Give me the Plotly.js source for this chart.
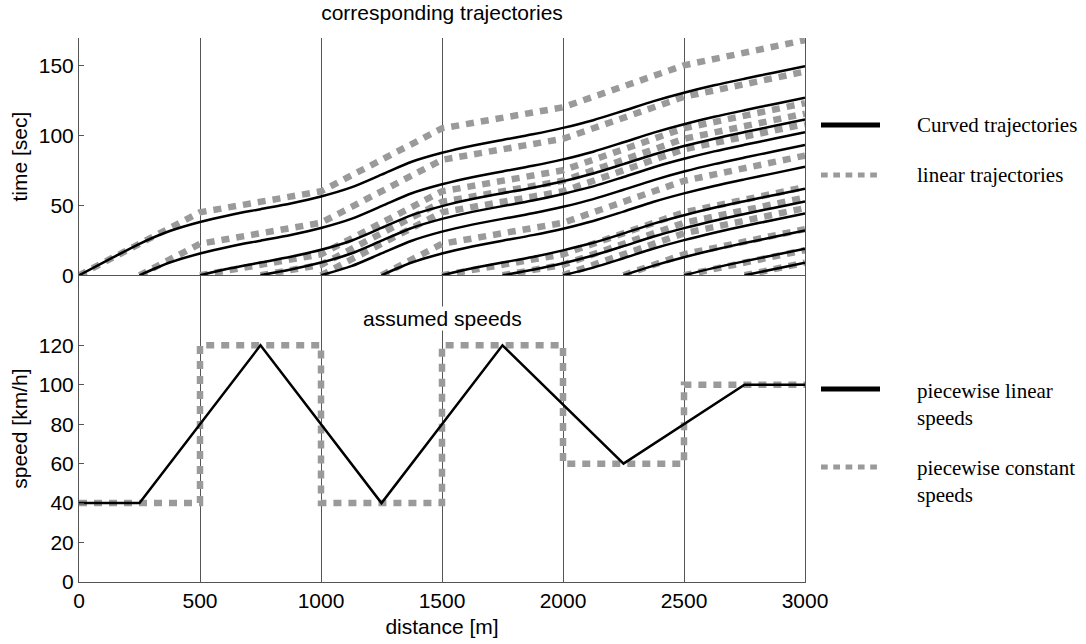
<!DOCTYPE html>
<html>
<head>
<meta charset="utf-8">
<script src="https://cdn.plot.ly/plotly-3.0.1.min.js"></script>
<style>html,body{margin:0;padding:0;background:#fff;}#chart{width:1086px;height:644px;}</style>
</head>
<body>
<div id="chart"></div>
<script>
// ---- data ----
// distance grid (m) used for the curved trajectories
const distGrid = [0,125,250,375,500,625,750,875,1000,1125,1250,1375,1500,1625,1750,1875,2000,2125,2250,2375,2500,2625,2750,2875,3000];
// start positions of the vehicles (m)
const trajStarts = [0,250,500,750,1000,1250,1500,1750,2000,2250,2500,2750];
// boundaries of the constant-speed sections (m)
const sectionBounds = [0,500,1000,1500,2000,2500,3000];

// curved trajectories: time (s) at distGrid points from the start position on
const curved0    = [0,11.3,22.5,31.6,38.1,43.1,47.2,51.3,56.3,62.8,71.9,81.1,87.5,92.6,96.7,100.7,105.3,110.8,117.5,124.4,130.4,135.7,140.4,144.9,149.4];
const curved250  = [0,9.1,15.6,20.6,24.7,28.8,33.8,40.3,49.4,58.6,65.0,70.1,74.2,78.2,82.8,88.3,95.0,101.9,107.9,113.2,117.9,122.4,126.9];
const curved500  = [0,5.0,9.1,13.2,18.2,24.7,33.8,43.0,49.4,54.5,58.6,62.6,67.2,72.7,79.4,86.3,92.3,97.6,102.3,106.8,111.3];
const curved750  = [0,4.1,9.1,15.6,24.7,33.8,40.3,45.3,49.4,53.4,58.1,63.5,70.2,77.2,83.2,88.5,93.2,97.7,102.2];
const curved1000 = [0,6.5,15.6,24.7,31.2,36.2,40.3,44.3,48.9,54.4,61.1,68.0,74.1,79.4,84.1,88.6,93.1];
const curved1250 = [0,9.1,15.6,20.6,24.7,28.7,33.3,38.8,45.5,52.5,58.5,63.8,68.5,73.0,77.5];
const curved1500 = [0,5.0,9.1,13.1,17.8,23.2,29.9,36.9,42.9,48.2,52.9,57.4,61.9];
const curved1750 = [0,4.0,8.6,14.1,20.8,27.7,33.7,39.0,43.8,48.3,52.8];
const curved2000 = [0,5.5,12.2,19.1,25.1,30.4,35.2,39.7,44.2];
const curved2250 = [0,6.9,12.9,18.2,23.0,27.5,32.0];
const curved2500 = [0,5.3,10.0,14.5,19.0];
const curved2750 = [0,4.5,9.0];

// linear trajectories: time (s) at the start and at each later section boundary
const linear0    = [0,45,60,105,120,150,168];
const linear250  = [0,22.5,37.5,82.5,97.5,127.5,145.5];
const linear500  = [0,15,60,75,105,123];
const linear750  = [0,7.5,52.5,67.5,97.5,115.5];
const linear1000 = [0,45,60,90,108];
const linear1250 = [0,22.5,37.5,67.5,85.5];
const linear1500 = [0,15,45,63];
const linear1750 = [0,7.5,37.5,55.5];
const linear2000 = [0,30,48];
const linear2250 = [0,15,33];
const linear2500 = [0,18];
const linear2750 = [0,9];

// assumed speeds
const linSpeedX = [0,250,750,1250,1750,2250,2750,3000];
const linSpeedV = [40,40,120,40,120,60,100,100];
const constSpeedX = [0,500,1000,1500,2000,2500,3000];
const constSpeedV = [40,120,40,120,60,100,100];

// ticks
const xTicks = [0,500,1000,1500,2000,2500,3000];
const timeTicks = [0,50,100,150];
const speedTicks = [0,20,40,60,80,100,120];

// ---- build traces ----
const curvedAll = [curved0,curved250,curved500,curved750,curved1000,curved1250,curved1500,curved1750,curved2000,curved2250,curved2500,curved2750];
const linearAll = [linear0,linear250,linear500,linear750,linear1000,linear1250,linear1500,linear1750,linear2000,linear2250,linear2500,linear2750];

const GRAY = '#9a9a9a';
const grayLine = {color: GRAY, width: 6.5, dash: '8px,7px'};
const blackLine = {color: '#000', width: 2.5};

const traces = [];
trajStarts.forEach((s, i) => {
  const xs = [s].concat(sectionBounds.filter(b => b > s));
  traces.push({x: xs, y: linearAll[i], xaxis: 'x', yaxis: 'y', type: 'scatter', mode: 'lines',
    line: grayLine, name: 'linear trajectories', showlegend: false, hoverinfo: 'skip'});
});
trajStarts.forEach((s, i) => {
  const idx = distGrid.indexOf(s);
  traces.push({x: distGrid.slice(idx), y: curvedAll[i], xaxis: 'x', yaxis: 'y', type: 'scatter', mode: 'lines',
    line: Object.assign({shape: 'spline', smoothing: 0.8}, blackLine), name: 'Curved trajectories', showlegend: false, hoverinfo: 'skip'});
});
traces.push({x: constSpeedX, y: constSpeedV, xaxis: 'x2', yaxis: 'y2', type: 'scatter', mode: 'lines',
  line: Object.assign({shape: 'hv'}, grayLine), name: 'piecewise constant speeds', showlegend: false});
traces.push({x: linSpeedX, y: linSpeedV, xaxis: 'x2', yaxis: 'y2', type: 'scatter', mode: 'lines',
  line: blackLine, name: 'piecewise linear speeds', showlegend: false});

// ---- layout ----
const SANS = 'Liberation Sans, Arial, sans-serif';
const SERIF = 'Liberation Serif, Times New Roman, serif';
const FS = 21;
const AXC = '#555';
const split = 0.5638;

function px2x(p){ return (p - 79) / 726; }
function py2y(p){ return (582 - p) / 544; }

const layout = {
  width: 1086, height: 644,
  margin: {l: 79, r: 281, t: 38, b: 62, pad: 0},
  paper_bgcolor: '#fff', plot_bgcolor: '#fff',
  font: {family: SANS, size: FS, color: '#000'},
  showlegend: false,
  title: {text: 'corresponding trajectories', font: {family: SANS, size: FS, color: '#000'},
          x: 0.5, xref: 'paper', xanchor: 'center', y: 1 - 13/644, yref: 'container', yanchor: 'middle'},
  xaxis: {domain: [0,1], range: [0,3000], anchor: 'y', tickvals: xTicks, showticklabels: false,
          showgrid: true, gridcolor: AXC, gridwidth: 1, showline: true, linecolor: AXC, linewidth: 1,
          ticks: '', zeroline: false, fixedrange: true},
  xaxis2: {domain: [0,1], range: [0,3000], anchor: 'y2', matches: 'x', tickvals: xTicks,
          ticktext: xTicks.map(String), showticklabels: true, tickfont: {family: SANS, size: FS, color: '#000'},
          showgrid: true, gridcolor: AXC, gridwidth: 1, showline: true, linecolor: AXC, linewidth: 1,
          ticks: 'inside', ticklen: 5, tickcolor: AXC, zeroline: false, fixedrange: true,
          title: {text: 'distance [m]', font: {family: SANS, size: FS, color: '#000'}, standoff: 8}},
  yaxis: {domain: [split,1], range: [0,169.5], anchor: 'x', tickvals: timeTicks,
          tickfont: {family: SANS, size: FS, color: '#000'}, ticks: 'inside', ticklen: 5, tickcolor: AXC,
          showline: true, mirror: true, linecolor: AXC, linewidth: 1, showgrid: false, zeroline: false, fixedrange: true,
          title: {text: 'time [sec]', font: {family: SANS, size: FS, color: '#000'}}},
  yaxis2: {domain: [0,split], range: [0,155.5], anchor: 'x2', tickvals: speedTicks,
          tickfont: {family: SANS, size: FS, color: '#000'}, ticks: 'inside', ticklen: 5, tickcolor: AXC,
          showline: true, mirror: true, linecolor: AXC, linewidth: 1, showgrid: false, zeroline: false, fixedrange: true,
          title: {text: 'speed [km/h]', font: {family: SANS, size: FS, color: '#000'}}},
  shapes: [
    {type: 'line', xref: 'paper', yref: 'paper', x0: px2x(821), x1: px2x(880), y0: py2y(125), y1: py2y(125),
     line: {color: '#000', width: 5}},
    {type: 'line', xref: 'paper', yref: 'paper', x0: px2x(821), x1: px2x(880), y0: py2y(175), y1: py2y(175),
     line: {color: GRAY, width: 5, dash: '6.7px,5.6px'}},
    {type: 'line', xref: 'paper', yref: 'paper', x0: px2x(821), x1: px2x(880), y0: py2y(389), y1: py2y(389),
     line: {color: '#000', width: 5}},
    {type: 'line', xref: 'paper', yref: 'paper', x0: px2x(821), x1: px2x(880), y0: py2y(467), y1: py2y(467),
     line: {color: GRAY, width: 5, dash: '6.7px,5.6px'}}
  ],
  annotations: [
    {text: 'assumed speeds', xref: 'paper', yref: 'paper', x: 0.5, y: py2y(318), xanchor: 'center', yanchor: 'middle',
     showarrow: false, bgcolor: '#fff', borderpad: 0, font: {family: SANS, size: FS, color: '#000'}},
    {text: 'Curved trajectories', xref: 'paper', yref: 'paper', x: px2x(915), y: py2y(125), xanchor: 'left', yanchor: 'middle',
     showarrow: false, align: 'left', font: {family: SERIF, size: FS, color: '#000'}},
    {text: 'linear trajectories', xref: 'paper', yref: 'paper', x: px2x(915), y: py2y(175), xanchor: 'left', yanchor: 'middle',
     showarrow: false, align: 'left', font: {family: SERIF, size: FS, color: '#000'}},
    {text: 'piecewise linear<br>speeds', xref: 'paper', yref: 'paper', x: px2x(915), y: py2y(404), xanchor: 'left', yanchor: 'middle',
     showarrow: false, align: 'left', font: {family: SERIF, size: FS, color: '#000'}},
    {text: 'piecewise constant<br>speeds', xref: 'paper', yref: 'paper', x: px2x(915), y: py2y(481), xanchor: 'left', yanchor: 'middle',
     showarrow: false, align: 'left', font: {family: SERIF, size: FS, color: '#000'}}
  ]
};

Plotly.newPlot('chart', traces, layout, {staticPlot: true, displayModeBar: false});
</script>
</body>
</html>
